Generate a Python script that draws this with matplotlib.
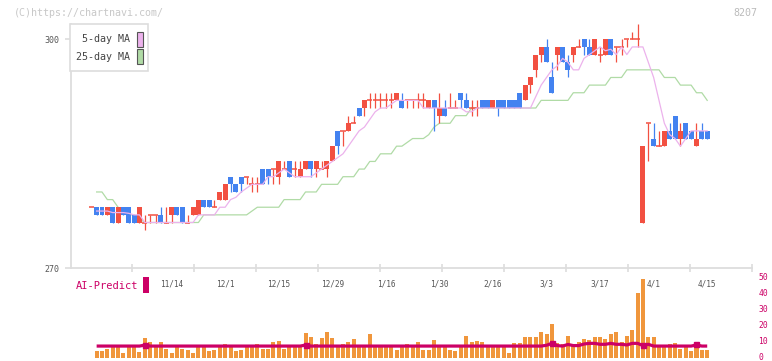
import numpy as np
import matplotlib
matplotlib.use("Agg")
import matplotlib.pyplot as plt
from matplotlib.patches import Rectangle
from matplotlib.transforms import ScaledTranslation

nan = float("nan")

# ---------------- data ----------------
opens = [278, 278, 278, 277, 278, 276, 278, 278, 277, 276,
         276, 277, 277, 277, 276, 277, 278, 278, 276, 277,
         277, 279, 279, 278, 279, 279, 282, 281, 282, 282,
         281, 281, 283, 283, 283, 282, 283, 284, 283, 282,
         283, 284, 283, 283, 283, 284, 288, 288, 288, 289,
         291, 291, 292, 292, 292, 292, 292, 292, 292, 292,
         292, 292, 292, 291, 292, 290, 291, 291, 291, 293,
         292, 291, 291, 292, 292, 291, 292, 292, 292, 292,
         293, 292, 294, 296, 298, 299, 295, 298, 299, 297,
         298, 299, 300, 299, 298, 298, 298, 300, 299, 299,
         300, 300, 300, 276, 289, 287, 286, 286, 288, 290,
         287, 289, 288, 286, 288, 288]
highs = [278, 278, 278, 278, 278, 278, 278, 278, 277, 278,
         277, 277, 277, 278, 278, 278, 278, 278, 277, 278,
         279, 279, 279, 279, 280, 281, 282, 281, 282, 282,
         282, 282, 283, 283, 283, 284, 284, 284, 284, 284,
         284, 284, 284, 284, 284, 286, 288, 288, 290, 290,
         291, 292, 293, 293, 293, 293, 293, 293, 293, 292,
         292, 293, 293, 292, 292, 293, 292, 293, 292, 293,
         293, 292, 292, 292, 292, 292, 292, 292, 292, 292,
         293, 294, 295, 298, 299, 300, 297, 299, 299, 298,
         299, 300, 300, 300, 300, 299, 300, 300, 299, 300,
         300, 301, 302, 286, 289, 289, 288, 288, 289, 290,
         289, 289, 288, 289, 289, 288]
lows = [278, 277, 277, 277, 276, 276, 277, 276, 276, 276,
        275, 276, 276, 276, 276, 276, 277, 276, 276, 277,
        277, 278, 278, 278, 279, 279, 280, 280, 280, 281,
        280, 280, 281, 281, 281, 281, 283, 282, 282, 282,
        283, 282, 282, 283, 282, 284, 285, 286, 288, 289,
        290, 290, 291, 291, 291, 291, 291, 292, 291, 291,
        291, 291, 291, 291, 288, 289, 290, 291, 291, 291,
        291, 290, 290, 291, 291, 291, 290, 291, 291, 291,
        291, 292, 293, 295, 297, 297, 293, 296, 297, 295,
        297, 299, 298, 298, 298, 297, 298, 298, 297, 298,
        299, 300, 299, 276, 284, 286, 286, 286, 287, 287,
        286, 287, 287, 286, 287, 287]
closes = [278, 277, 277, 278, 276, 278, 277, 276, 276, 278,
          276, 277, 277, 276, 276, 278, 277, 276, 276, 278,
          279, 278, 278, 278, 280, 281, 281, 280, 281, 282,
          281, 281, 281, 282, 283, 284, 283, 282, 283, 283,
          284, 283, 284, 283, 284, 286, 286, 288, 289, 289,
          290, 292, 292, 292, 292, 292, 292, 293, 291, 292,
          292, 292, 292, 292, 291, 291, 290, 291, 291, 292,
          291, 291, 291, 291, 291, 292, 291, 291, 291, 291,
          291, 294, 295, 298, 299, 297, 293, 299, 297, 296,
          299, 299, 299, 298, 300, 298, 300, 298, 299, 299,
          300, 300, 300, 286, 289, 286, 286, 288, 287, 287,
          288, 287, 287, 287, 287, 287]

ma5 = [nan, 277.5, 277.5, 277.5, 277.3, 277.3, 277.3, 277.2, 277, 277,
       276, 276, 276, 276, 276, 276, 276, 276, 276, 276,
       277, 277, 277, 277, 278, 278, 279, 279.3, 280, 280.5,
       281, 281, 281, 282, 282, 282.5, 283, 282.5, 282, 282,
       282, 282, 282.5, 283, 283.5, 284, 284.5, 285, 286, 287,
       288, 288.5, 289.5, 290.5, 291, 291, 291.5, 292, 292, 292,
       292, 292, 291, 291, 291, 291, 291, 291, 291, 291,
       290.5, 290.5, 291, 291, 291, 291, 291, 291, 291, 291,
       291, 291, 291, 292.5, 294, 295, 296, 296.5, 297.5, 297,
       296, 296, 297.5, 298, 298.5, 299, 298.5, 298.7, 298, 299,
       298, 299, 299, 299, 297, 295, 292, 289, 287.5, 287,
       286, 287, 288, 288, 288, 288]
ma25 = [nan, 280, 280, 279, 279, 278, 277.5, 277, 277, 276.5,
        276, 276, 276, 276, 276, 276, 276, 276, 276, 276,
        276, 277, 277, 277, 277, 277, 277, 277, 277, 277,
        277.5, 278, 278, 278, 278, 278, 279, 279, 279, 279,
        280, 280, 280, 281, 281, 281, 281, 282, 282, 282,
        283, 283, 284, 284, 285, 285, 285, 286, 286, 286.5,
        287, 287, 287, 287.5, 288.5, 289, 289, 289, 290, 290,
        290, 291, 291, 291, 291, 291, 291, 291, 291, 291,
        291, 291, 291, 291, 292, 292, 292, 292, 292, 292,
        293, 293, 293, 294, 294, 294, 294, 295, 295, 295,
        296, 296, 296, 296, 296, 296, 296, 295, 295, 295,
        294, 294, 294, 293, 293, 292]

volume = [nan, 4.2, 4.2, 5.4, 7, 7, 2.9, 7, 7, 3.6,
          12.3, 9.8, 7, 9.8, 5.4, 2.9, 7, 5.4, 4.8, 2.9,
          7, 7, 4.2, 4.8, 7, 8.6, 7, 4.2, 4.8, 7,
          7, 8.6, 5.4, 5.4, 9.8, 10.5, 5.4, 7, 7, 7,
          15.5, 13, 8.6, 12.3, 16.1, 12.3, 7, 8.6, 9.8, 11.7,
          7, 7, 14.9, 7, 7, 7, 7, 4.8, 7, 8.6,
          7, 9.8, 4.8, 4.8, 11, 7, 7, 4.8, 4.2, 7,
          13.6, 9.8, 10.5, 9.8, 7, 7, 7, 7, 2.9, 9.2,
          9.2, 13, 13, 13, 16.1, 14.9, 21.1, 9.2, 8.6, 13.6,
          8.6, 9.8, 11.7, 11, 13, 13, 11.7, 14.9, 16.1, 9.8,
          13.6, 17.4, 40.6, 49.4, 13, 13, 7, 7, 8.6, 9.2,
          5.4, 7, 4.2, 8, 4.8, 4.8]
ai_predict = [nan, 7.3, 7.3, 7.3, 7.3, 7.3, 7.3, 7.3, 7.3, 7.3,
              7.9, 7.3, 7.3, 7.3, 7.3, 7.3, 7.3, 7.3, 7.3, 7.3,
              7.3, 7.3, 7.3, 7.3, 7.3, 7.3, 7.3, 7.3, 7.3, 7.3,
              7.3, 7.3, 7.3, 7.3, 7.3, 7.3, 7.3, 7.3, 7.3, 7.3,
              7.9, 7.3, 7.3, 7.3, 7.3, 7.3, 7.3, 7.3, 7.3, 7.3,
              7.3, 7.3, 7.3, 7.3, 7.3, 7.3, 7.3, 7.3, 7.3, 7.3,
              7.3, 7.3, 7.3, 7.3, 7.3, 7.3, 7.3, 7.3, 7.3, 7.3,
              7.3, 7.3, 7.3, 7.3, 7.3, 7.3, 7.3, 7.3, 7.3, 7.3,
              7.3, 7.3, 7.3, 7.3, 7.3, 7.8, 9.0, 7.6, 7.3, 8.3,
              7.6, 7.6, 8.6, 9.0, 9.0, 8.4, 8.4, 9.0, 8.4, 8.4,
              8.0, 9.0, 9.0, 7.6, 8.4, 7.3, 7.3, 7.3, 7.3, 7.3,
              7.3, 7.3, 7.3, 8.0, 7.3, 7.3]
ai_marker_days = [10, 40, 86, 103, 113]

date_positions = [15, 25, 35, 45, 55, 65, 75, 85, 95, 105, 115]
date_labels = ["11/14", "12/1", "12/15", "12/29", "1/16", "1/30",
               "2/16", "3/3", "3/17", "4/1", "4/15"]
price_ticks = [270, 300]
volume_ticks = [0, 10, 20, 30, 40, 50]

# ---------------- styling ----------------
RED = "#f25041"
BLUE = "#4382f0"
PINK = "#ecb2ec"
GREEN = "#b0dba6"
ORANGE = "#f0963c"
MAG = "#cc0066"
AXIS = "#dddddd"
MONO = ["DejaVu Sans Mono"]

plt.rcParams["font.family"] = MONO

W, H = 772, 361
fig = plt.figure(figsize=(W / 100, H / 100), dpi=100)


def fx(px):
    return px / W


def fy(py):
    return 1 - py / H


# x range in candle units: 11 equal tick intervals
x0 = -3.88
x1 = x0 + 127.3

# ---------------- price panel ----------------
ax = fig.add_axes([fx(70.5), fy(268.3), fx(752.3) - fx(70.5), fy(24) - fy(268.3)])
ax.set_xlim(x0, x1)
ax.set_ylim(270, 270 + (268.3 - 24) / 7.633)

o = np.array(opens, float)
h = np.array(highs, float)
l = np.array(lows, float)
c = np.array(closes, float)
idx = np.arange(len(o))
cols = np.where(c >= o, RED, BLUE)

ax.vlines(idx, l, h, colors=cols, linewidth=0.9, zorder=3)
body = np.abs(c - o)
ax.bar(idx, body, bottom=np.minimum(o, c), width=0.93, color=cols,
       linewidth=0, zorder=4)
dj = body == 0
ax.hlines(o[dj], idx[dj] - 0.47, idx[dj] + 0.47, colors=cols[dj],
          linewidth=1.1, zorder=4)

ax.plot(idx, ma25, color=GREEN, lw=0.9, zorder=2)
ax.plot(idx, ma5, color=PINK, lw=0.9, zorder=5)

for s in ["top", "right"]:
    ax.spines[s].set_visible(False)
for s in ["left", "bottom"]:
    ax.spines[s].set_color(AXIS)
    ax.spines[s].set_linewidth(1.3)

ax.set_yticks(price_ticks)
ax.set_yticklabels([str(t) for t in price_ticks])
ax.tick_params(axis="y", colors=AXIS, length=4, width=1.2, labelsize=6,
               labelcolor="#555555", pad=4)

ax.set_xticks(date_positions)
ax.set_xticklabels(date_labels)
ax.tick_params(axis="x", which="major", length=0, labelsize=5.6,
               labelcolor="#555555", pad=8)
ax.set_xticks([x0 + k * (x1 - x0) / 11 for k in range(1, 12)], minor=True)
ax.tick_params(axis="x", which="minor", direction="inout", length=6,
               width=1.2, color=AXIS)

# ---------------- volume / AI panel ----------------
axv = fig.add_axes([fx(70.5), fy(357.7), fx(752.3) - fx(70.5), fy(278) - fy(357.7)])
axv.set_xlim(x0, x1)
axv.set_ylim(0, 50)
axv.patch.set_alpha(0)
axv.bar(idx, volume, width=0.75, color=ORANGE, linewidth=0, zorder=2)
axv.plot(idx, ai_predict, color=MAG, lw=2.3, zorder=3, solid_capstyle="butt")
mk = np.array(ai_marker_days)
axv.plot(mk, np.array(ai_predict)[mk] + 0.3, "s", color=MAG, ms=3.6,
         zorder=4, linestyle="none")
for s in axv.spines.values():
    s.set_visible(False)
axv.set_xticks([])
axv.yaxis.tick_right()
axv.set_yticks(volume_ticks)
axv.set_yticklabels([str(t) for t in volume_ticks])
axv.tick_params(axis="y", length=0, labelsize=5.8, labelcolor=MAG, pad=4.5)
lift = ScaledTranslation(0, 1.5 / 100, fig.dpi_scale_trans)
for lbl in axv.get_yticklabels():
    lbl.set_transform(lbl.get_transform() + lift)

# ---------------- overlay: header, legend, AI label ----------------
ov = fig.add_axes([0, 0, 1, 1], zorder=10)
ov.set_xlim(0, W)
ov.set_ylim(H, 0)
ov.axis("off")
ov.patch.set_alpha(0)

ov.text(14, 12.5, "(C)https://chartnavi.com/", color="#c8c8c8", fontsize=7.2,
        ha="left", va="center")
ov.text(757, 12.5, "8207", color="#bbbbbb", fontsize=7.2, ha="right",
        va="center")

ov.add_patch(Rectangle((70.3, 24), 78, 47, facecolor="white",
                       edgecolor="#dddddd", lw=1.2))
ov.text(130.5, 39, "5-day MA", color="#444444", fontsize=7.2, ha="right",
        va="center")
ov.text(130.5, 57, "25-day MA", color="#444444", fontsize=7.2, ha="right",
        va="center")
ov.add_patch(Rectangle((136.5, 31.5), 6, 15, facecolor=PINK,
                       edgecolor="#555555", lw=0.8))
ov.add_patch(Rectangle((136.5, 49), 6, 15, facecolor=GREEN,
                       edgecolor="#555555", lw=0.8))

ov.text(76, 286, "AI-Predict", color=MAG, fontsize=7.5, ha="left",
        va="center")
ov.add_patch(Rectangle((142.5, 277), 6, 16, facecolor=MAG, edgecolor="none"))

fig.savefig("out.png", dpi=100)
